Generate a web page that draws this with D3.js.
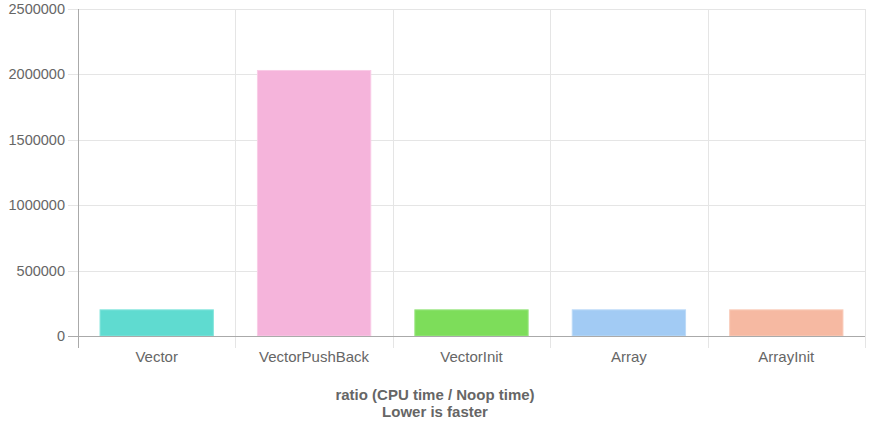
<!DOCTYPE html>
<html>
<head>
<meta charset="utf-8">
<script src="https://cdn.jsdelivr.net/npm/d3@7"></script>
<style>
  body { margin: 0; background: #fff; }
  text { font-family: "Liberation Sans", Arial, sans-serif; fill: #666; }
</style>
</head>
<body>
<div id="chart"></div>
<script>
// chart data
const categories = ["Vector", "VectorPushBack", "VectorInit", "Array", "ArrayInit"];
const values = [200000, 2030000, 200000, 200000, 200000];
const barColors = ["#5fdbd0", "#f5b4db", "#7ddd5a", "#a2cbf4", "#f6b9a2"];
const borderColors = ["#84e5dc", "#f9cbe6", "#9be683", "#bcdaf7", "#f9cdbc"];
const yTicks = [0, 500000, 1000000, 1500000, 2000000, 2500000];
const titleLines = ["ratio (CPU time / Noop time)", "Lower is faster"];

const W = 870, H = 435;
const plot = { left: 78, right: 865, top: 9, bottom: 336 };

const svg = d3.select("#chart").append("svg")
    .attr("width", W)
    .attr("height", H);

const x = d3.scaleBand()
    .domain(categories)
    .range([plot.left, plot.right]);

const y = d3.scaleLinear()
    .domain([0, 2500000])
    .range([plot.bottom, plot.top]);

// horizontal gridlines
svg.append("g")
    .selectAll("line")
    .data(yTicks)
    .enter().append("line")
    .attr("x1", plot.left - 10)
    .attr("x2", plot.right)
    .attr("y1", d => Math.round(y(d)) + 0.5)
    .attr("y2", d => Math.round(y(d)) + 0.5)
    .attr("stroke", "#e5e5e5")
    .attr("stroke-width", 1);

// vertical gridlines at band edges
const edges = categories.map(c => x(c)).concat([plot.right]);
svg.append("g")
    .selectAll("line")
    .data(edges)
    .enter().append("line")
    .attr("x1", d => Math.round(d) + 0.5)
    .attr("x2", d => Math.round(d) + 0.5)
    .attr("y1", plot.top)
    .attr("y2", plot.bottom + 12)
    .attr("stroke", "#e5e5e5")
    .attr("stroke-width", 1);

// bars
const barW = x.bandwidth() * 0.72;
svg.append("g")
    .selectAll("rect")
    .data(values)
    .enter().append("rect")
    .attr("x", (d, i) => x(categories[i]) + (x.bandwidth() - barW) / 2)
    .attr("width", barW)
    .attr("y", d => y(d))
    .attr("height", d => y(0) - y(d))
    .attr("fill", (d, i) => barColors[i])
    .attr("stroke", (d, i) => borderColors[i])
    .attr("stroke-width", 1);

// axis lines on top
svg.append("line")
    .attr("x1", plot.left - 10).attr("x2", plot.right)
    .attr("y1", Math.round(y(0)) + 0.5).attr("y2", Math.round(y(0)) + 0.5)
    .attr("stroke", "#aaa");
svg.append("line")
    .attr("x1", plot.left + 0.5).attr("x2", plot.left + 0.5)
    .attr("y1", plot.top).attr("y2", plot.bottom + 12)
    .attr("stroke", "#aaa");

// y tick labels
svg.append("g")
    .selectAll("text")
    .data(yTicks)
    .enter().append("text")
    .attr("x", plot.left - 13)
    .attr("y", d => y(d))
    .attr("dy", "0.35em")
    .attr("text-anchor", "end")
    .style("font-size", "14.5px")
    .text(d => d);

// x tick labels
svg.append("g")
    .selectAll("text")
    .data(categories)
    .enter().append("text")
    .attr("x", d => x(d) + x.bandwidth() / 2)
    .attr("y", plot.bottom + 26)
    .attr("text-anchor", "middle")
    .style("font-size", "15px")
    .text(d => d);

// axis title
svg.append("g")
    .selectAll("text")
    .data(titleLines)
    .enter().append("text")
    .attr("x", W / 2)
    .attr("y", (d, i) => 400 + i * 17)
    .attr("text-anchor", "middle")
    .style("font-size", "15px")
    .style("font-weight", "bold")
    .text(d => d);
</script>
</body>
</html>
